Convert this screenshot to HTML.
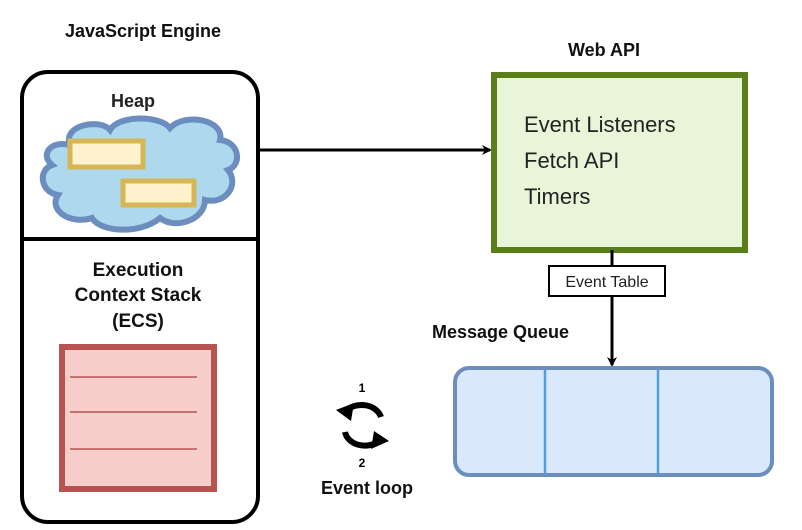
<!DOCTYPE html>
<html><head><style>body{margin:0;background:#fff}svg{display:block}</style></head><body>
<svg width="802" height="530" viewBox="0 0 802 530" xmlns="http://www.w3.org/2000/svg" font-family="Liberation Sans, Arial, sans-serif">
<defs><marker id="a" markerWidth="10" markerHeight="10" refX="8" refY="5" orient="auto" markerUnits="userSpaceOnUse"><path d="M0,0 L10,5 L0,10 L3,5 z" fill="#000"/></marker></defs>
<text x="143" y="37" text-anchor="middle" font-size="18" font-weight="bold" fill="#111">JavaScript Engine</text>
<rect x="22" y="72" width="236" height="450" rx="26" fill="#fff" stroke="#000" stroke-width="4"/>
<line x1="22" y1="239" x2="258" y2="239" stroke="#000" stroke-width="4"/>
<text x="133" y="107" text-anchor="middle" font-size="18" font-weight="bold" fill="#222">Heap</text>
<path d="M70,145 C62,125 100,118 110,130 C118,115 160,115 170,128 C185,112 225,120 220,140 C240,142 242,165 228,170 C240,185 225,205 205,200 C205,220 175,230 160,218 C140,235 100,232 92,218 C70,225 48,210 58,195 C40,192 38,170 52,165 C40,155 50,140 70,145 Z" fill="#add8ee" stroke="#6c8ebf" stroke-width="6"/>
<rect x="70" y="141" width="73" height="26" fill="#fff2cc" stroke="#d6b656" stroke-width="5"/>
<rect x="123" y="181" width="71" height="24" fill="#fff2cc" stroke="#d6b656" stroke-width="5"/>
<g font-size="19" font-weight="bold" fill="#111" text-anchor="middle">
<text x="138" y="276">Execution</text><text x="138" y="301">Context Stack</text><text x="138" y="327">(ECS)</text></g>
<rect x="62" y="347" width="152" height="142" fill="#f8cecc" stroke="#b85450" stroke-width="6"/>
<g stroke="#b85450" stroke-width="1.5"><line x1="70" y1="377" x2="197" y2="377"/><line x1="70" y1="412" x2="197" y2="412"/><line x1="70" y1="449" x2="197" y2="449"/></g>
<line x1="258" y1="150" x2="490" y2="150" stroke="#000" stroke-width="3" marker-end="url(#a)"/>
<text x="604" y="56" text-anchor="middle" font-size="18" font-weight="bold" fill="#111">Web API</text>
<rect x="494" y="75" width="251" height="175" fill="#e8f5d8" stroke="#5a7f1a" stroke-width="6"/>
<g font-size="22" fill="#222"><text x="524" y="132">Event Listeners</text><text x="524" y="168">Fetch API</text><text x="524" y="204">Timers</text></g>
<line x1="612" y1="250" x2="612" y2="365" stroke="#000" stroke-width="3" marker-end="url(#a)"/>
<rect x="549" y="266" width="116" height="30" fill="#fff" stroke="#000" stroke-width="2"/>
<text x="607" y="287" text-anchor="middle" font-size="16" fill="#222">Event Table</text>
<text x="432" y="338" font-size="18" font-weight="bold" fill="#111">Message Queue</text>
<rect x="455" y="368" width="317" height="107" rx="14" fill="#dae8fc" stroke="#6c8ebf" stroke-width="4"/>
<line x1="545" y1="370" x2="545" y2="473" stroke="#4a9fe8" stroke-width="2.5"/>
<line x1="658" y1="370" x2="658" y2="473" stroke="#4a9fe8" stroke-width="2.5"/>
<text x="362" y="392" text-anchor="middle" font-size="12" font-weight="bold">1</text>
<path d="M381,417 A20,16 0 0 0 346,411" fill="none" stroke="#000" stroke-width="6"/>
<path d="M336,410 L354,403 L351,421 z" fill="#000"/>
<path d="M345,432 A20,16 0 0 0 380,440" fill="none" stroke="#000" stroke-width="6"/>
<path d="M389,441 L371,449 L374,431 z" fill="#000"/>
<text x="362" y="467" text-anchor="middle" font-size="12" font-weight="bold">2</text>
<text x="367" y="494" text-anchor="middle" font-size="18" font-weight="bold" fill="#111">Event loop</text>
</svg>
</body></html>
